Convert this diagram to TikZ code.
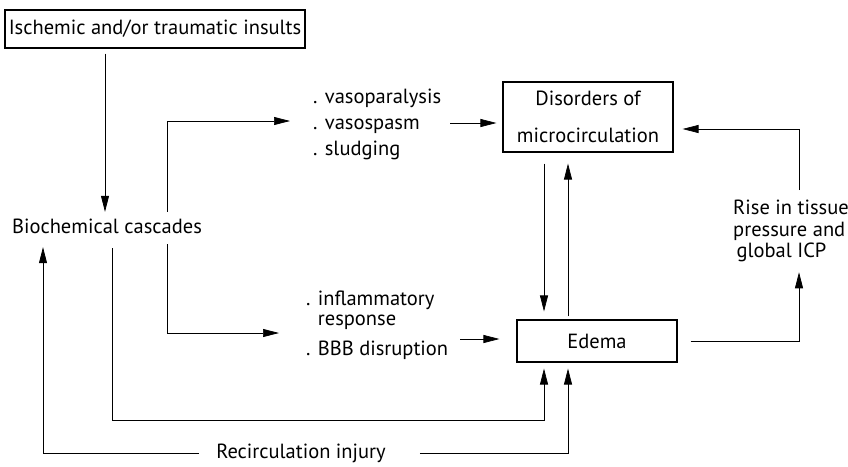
\documentclass[tikz,border=0pt]{standalone}
\usepackage{fontspec}
\setmainfont{PT Sans}
\usetikzlibrary{arrows.meta}
\begin{document}
\begin{tikzpicture}[x=1pt,y=-1pt,
  font=\fontsize{20.5}{24}\selectfont,
  box/.style={draw,line width=1.1pt,inner sep=0pt},
  arr/.style={line width=0.7pt,-{Triangle[length=16pt,width=8pt]}},
  ln/.style={line width=0.7pt}]
\useasboundingbox[fill=white] (0,0) rectangle (848,466);

% column / level coordinates
\coordinate (cA) at (544,0);
\coordinate (cB) at (568,0);
\coordinate (cR) at (799,0);
\coordinate (cL1) at (43,0);
\coordinate (cL2) at (112,0);
\coordinate (cL3) at (167,0);
\coordinate (yLow) at (0,420);
\coordinate (yRise) at (0,129);
\coordinate (vs) at (450,123);
\coordinate (vIn) at (290,121);
\coordinate (iIn) at (279,333);
\coordinate (iOut) at (460,339);

% nodes
\node[box,minimum width=300pt,minimum height=38pt] (isch) at (155,29) {Ischemic and/or traumatic insults};
\node[anchor=base,inner xsep=0pt,inner ysep=6pt,text height=15pt,text depth=5pt] (bc) at (107,233) {Biochemical cascades};
\node[anchor=west,align=left,inner sep=0pt,font=\fontsize{20.5}{26}\selectfont] (vaso) at (313,124) {. vasoparalysis\\. vasospasm\\. sludging};
\node[box,minimum width=170pt,minimum height=70pt,align=center,font=\fontsize{20.5}{37}\selectfont] (dis) at (588,117) {Disorders of\\microcirculation};
\node[box,minimum width=160pt,minimum height=42pt] (ede) at (597,341) {Edema};
\node[anchor=north west,align=left,inner sep=0pt,font=\fontsize{20.5}{20}\selectfont] (infl) at (306,291) {. inflammatory\\\phantom{. }response\\[10pt]. BBB disruption};
\node[anchor=north west,align=left,inner sep=0pt,font=\fontsize{20.5}{21.5}\selectfont] (rise) at (733,200) {Rise in tissue\\pressure and\\\,global ICP};
\node[anchor=base,inner xsep=17pt,inner ysep=4pt] (ri) at (301,458) {Recirculation injury};

% connectors
\draw[arr,shorten <=5pt] (isch.south -| 105,0) -- (bc.north -| 105,0);
\draw[arr] (bc.north -| cL3) |- (vIn);
\draw[arr] (bc.south -| cL3) |- (iIn);
\draw[arr,shorten >=6pt] (vs) -- (vs -| dis.west);
\draw[arr,shorten >=17pt] (iOut) -- (iOut -| ede.west);
\draw[arr,shorten <=11pt,shorten >=8pt] (dis.south -| cA) -- (ede.north -| cA);
\draw[arr,shorten <=3pt,shorten >=11pt] (ede.north -| cB) -- (dis.south -| cB);
\draw[arr,shorten <=4pt,shorten >=6pt] (bc.south -| cL2) -- (cL2 |- yLow) -| (ede.south -| cA);
\draw[arr,shorten >=3pt] (ri.west) -| (bc.south -| cL1);
\draw[arr,shorten <=17pt,shorten >=6pt] (ri.east) -| (ede.south -| cB);
\draw[arr,shorten <=13pt,shorten >=10pt] (ede.east) -| (rise.south -| cR);
\draw[arr,shorten <=10pt,shorten >=9pt] (rise.north -| cR) |- (dis.east |- yRise);
\end{tikzpicture}
\end{document}
